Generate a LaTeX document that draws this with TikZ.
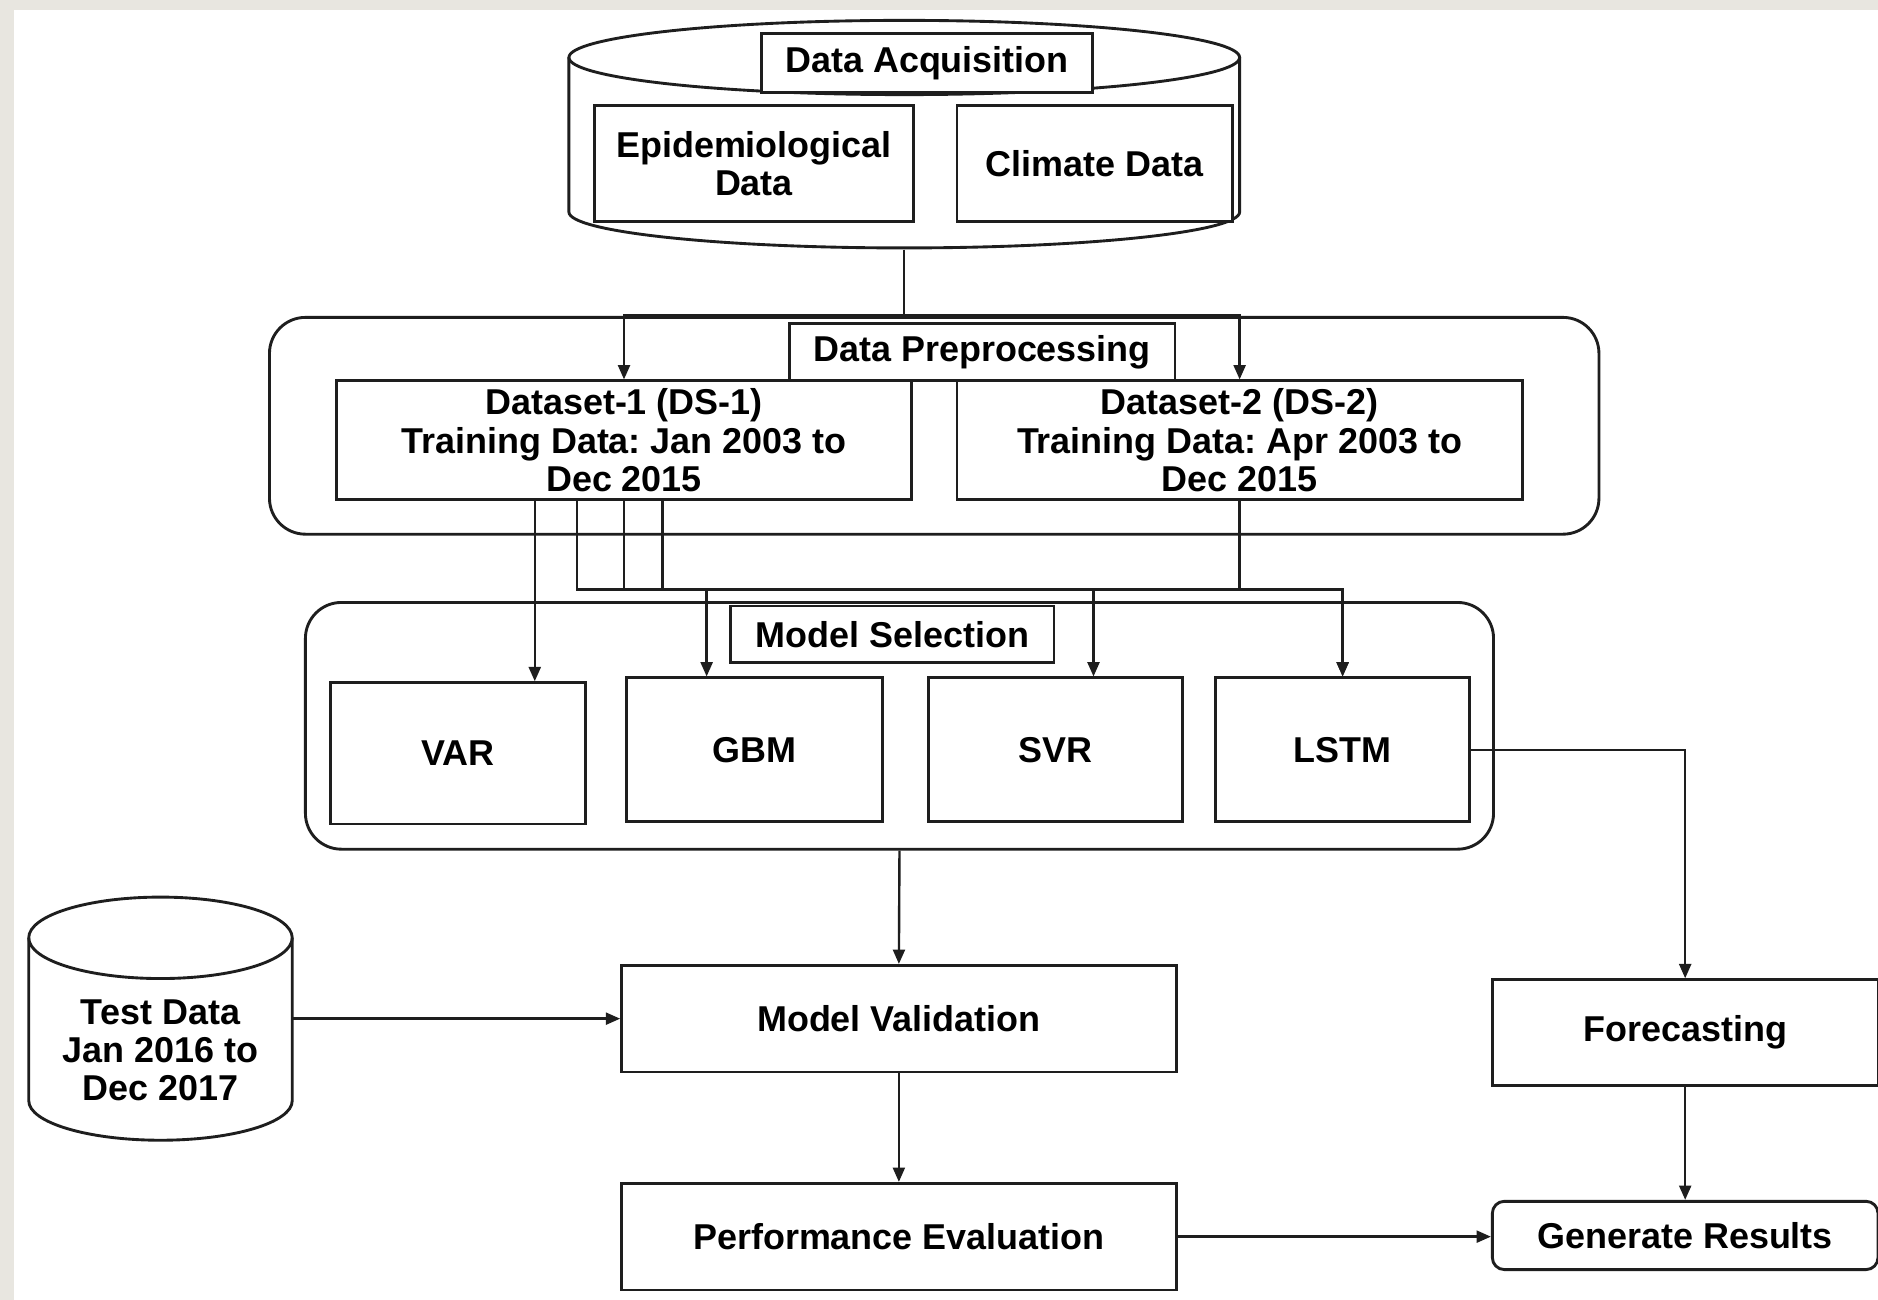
\documentclass[tikz,border=0pt]{standalone}
\usepackage{fontspec}
\setmainfont{Liberation Sans}
\usetikzlibrary{arrows.meta}
\frenchspacing

\definecolor{ink}{RGB}{30,30,30}
\definecolor{frame}{RGB}{232,230,224}

\tikzset{every picture/.style={line width=2pt}}
\tikzset{
  box/.style={draw=ink, fill=white, line width=2.4pt, inner sep=0pt, align=center},
  rbox/.style={box, rounded corners=#1},
  rbox/.default=30pt,
  cyl/.style={draw=ink, line width=2.4pt},
  link/.style={draw=ink, line width=2pt},
  arr/.style={link, -{Triangle[length=12pt,width=10pt]}},
}

\begin{document}
\begin{tikzpicture}[x=1pt,y=1pt,yscale=-1,font=\bfseries\fontsize{30}{32}\selectfont\frenchspacing]
\useasboundingbox (0,0) rectangle (1568,1085);
%Background
\fill[frame] (0,0) rectangle (1568,1085);
\fill[white] (12,8) rectangle (1568,1085);

%Cylinder: data acquisition
\node[minimum width=560pt, minimum height=191pt, inner sep=0pt] (acq) at (755,112) {};
\draw[cyl] (475,48) -- (475,177) arc[start angle=180, end angle=0, x radius=280, y radius=30] -- (1035,48);
\draw[cyl] (755,48) ellipse [x radius=280, y radius=31];
\node[box, minimum width=276pt, minimum height=49pt] (acqlbl) at (774,52.5) {Data Acquisition};
\node[box, minimum width=267pt, minimum height=97pt] (epi) at (629.5,136.5) {Epidemiological\\Data};
\node[box, minimum width=230pt, minimum height=97pt] (clim) at (914,136.5) {Climate Data};

%Rounded Rect: preprocessing
\node[rbox, minimum width=1110pt, minimum height=181pt] (prep) at (780,355.5) {};
\node[box, minimum width=322pt, minimum height=48pt] (preplbl) at (820,294) {Data Preprocessing};
\node[box, minimum width=480pt, minimum height=99pt] (ds1) at (521,367.5) {Dataset-1 (DS-1)\\Training Data: Jan 2003 to\\Dec 2015};
\node[box, minimum width=472pt, minimum height=99pt] (ds2) at (1035,367.5) {Dataset-2 (DS-2)\\Training Data: Apr 2003 to\\Dec 2015};

%Rounded Rect: model selection
\node[rbox, minimum width=992pt, minimum height=206pt] (sel) at (751,606) {};
\node[box, minimum width=270pt, minimum height=47pt] (sellbl) at (745,529.5) {Model Selection};
\node[box, minimum width=213pt, minimum height=118pt] (var) at (382.5,629) {VAR};
\node[box, minimum width=214pt, minimum height=120pt] (gbm) at (630,626) {GBM};
\node[box, minimum width=212pt, minimum height=120pt] (svr) at (881,626) {SVR};
\node[box, minimum width=212pt, minimum height=120pt] (lstm) at (1121,626) {LSTM};

%Cylinder: test data
\node[minimum width=220pt, minimum height=203pt, inner sep=0pt] (test) at (134,850.5) {};
\draw[cyl] (24,783) -- (24,919) arc[start angle=180, end angle=0, x radius=110, y radius=33] -- (244,783);
\draw[cyl] (134,783) ellipse [x radius=110, y radius=34];
\node[align=center, inner sep=0pt] (testlbl) at (134,877) {Test Data\\Jan 2016 to\\Dec 2017};

%Lower boxes
\node[box, minimum width=463pt, minimum height=89pt] (valid) at (750.5,850.5) {Model Validation};
\node[box, minimum width=463pt, minimum height=89pt] (perf) at (750.5,1032.5) {Performance Evaluation};
\node[box, minimum width=322pt, minimum height=88pt] (fore) at (1407,862) {Forecasting};
\node[rbox=10pt, minimum width=322pt, minimum height=57pt] (gen) at (1407,1031.5) {Generate Results};

%Connectors
\coordinate (split) at (755,263);
\draw[link] (acq.south) -- (split);
\draw[arr] (split) -| (ds1);
\draw[arr] (split) -| (ds2);

\coordinate (varin) at ([xshift=64pt]var.north);
\coordinate (gbmin) at ([xshift=-40pt]gbm.north);
\coordinate (svrin) at ([xshift=32pt]svr.north);
\draw[arr] (varin |- ds1.south) -- (varin);
\draw[arr] ([xshift=-39pt]ds1.south) -- ++(0,74) -| (gbmin);
\draw[arr] (ds1.south) -- ++(0,74) -| (svrin);
\draw[arr] ([xshift=32pt]ds1.south) -- ++(0,74) -| (lstm);
\draw[arr] (ds2.south) -- ++(0,74) -| (lstm);

\draw[arr] (lstm) -| (fore);
\draw[arr] (sel.south) -- (valid.north);
\draw[arr] (test.east) -- (valid.west);
\draw[arr] (valid) -- (perf);
\draw[arr] (perf.east) -- (perf.east -| gen.west);
\draw[arr] (fore) -- (gen);

\end{tikzpicture}
\end{document}
